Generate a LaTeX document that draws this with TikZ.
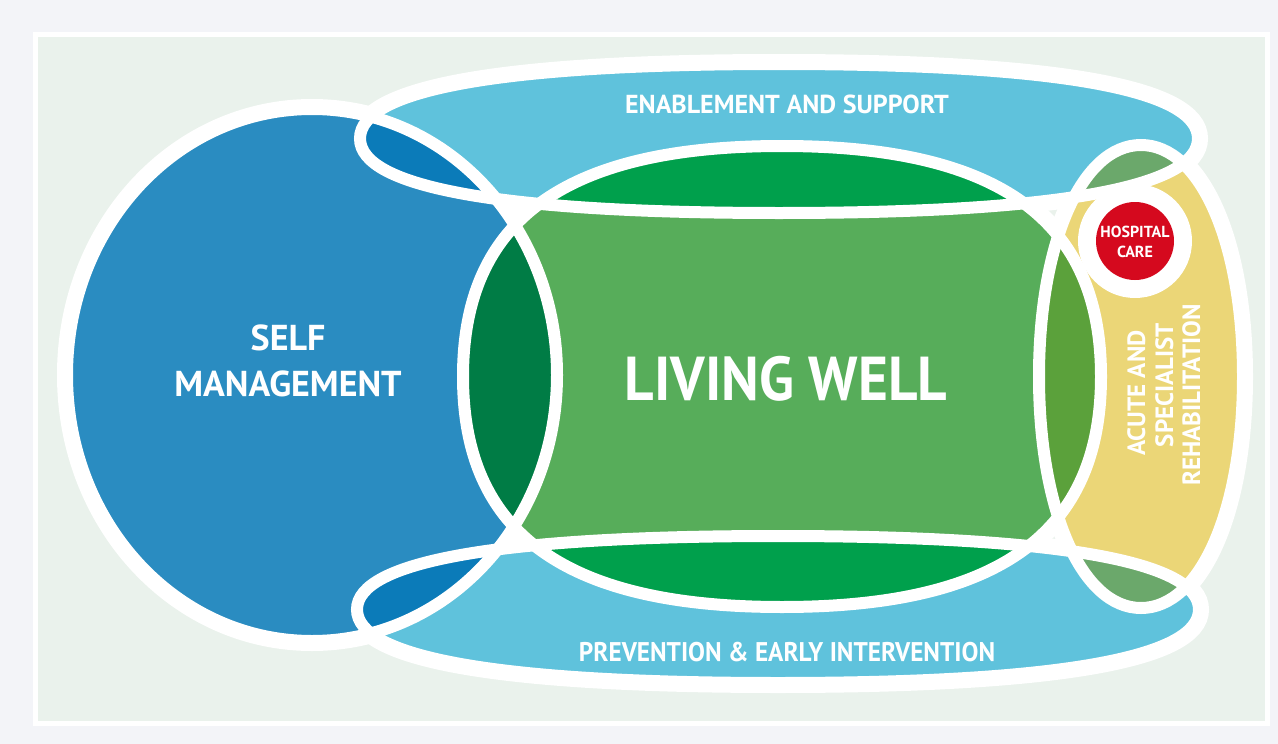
\documentclass[tikz,border=0pt]{standalone}
\usepackage{fontspec}
\setmainfont{PT Sans}
\definecolor{bgout}{HTML}{F3F4F8}
\definecolor{panel}{HTML}{EAF2EC}
\definecolor{cblue}{HTML}{2A8CC1}
\definecolor{dkblue}{HTML}{0B7BB9}
\definecolor{cband}{HTML}{5FC2DC}
\definecolor{cgreen}{HTML}{57AD5A}
\definecolor{lensG}{HTML}{00A04C}
\definecolor{lensL}{HTML}{007C45}
\definecolor{lensR}{HTML}{5BA13B}
\definecolor{cyel}{HTML}{EBD677}
\definecolor{lensY}{HTML}{6BA86B}
\definecolor{cred}{HTML}{D5091E}
\newcommand\sqpath[5]{({#1+#3},{#2}) .. controls ({#1+#3},{#2+#5*#4}) and ({#1+#5*#3},{#2+#4}) .. ({#1},{#2+#4}) .. controls ({#1-#5*#3},{#2+#4}) and ({#1-#3},{#2+#5*#4}) .. ({#1-#3},{#2}) .. controls ({#1-#3},{#2-#5*#4}) and ({#1-#5*#3},{#2-#4}) .. ({#1},{#2-#4}) .. controls ({#1+#5*#3},{#2-#4}) and ({#1+#3},{#2-#5*#4}) .. cycle}
\newcommand\pBlue{\sqpath{312}{375}{245}{266}{0.555}}
\newcommand\pTop{\sqpath{779}{138.5}{419}{74.5}{0.66}}
\newcommand\pBot{\sqpath{778}{609.5}{421}{73.5}{0.66}}
\newcommand\pMid{\sqpath{782}{376.5}{319}{230.5}{0.68}}
\newcommand\pYel{\sqpath{1141}{376.5}{102}{231.5}{0.58}}
\begin{document}
\begin{tikzpicture}[x=1pt,y=-1pt,
  halo/.style={draw=white,line width=20pt},
  edge/.style={draw=white,line width=12pt},
  lbl/.style={text=white,inner sep=0pt,font=\bfseries}]
\useasboundingbox (0,0) rectangle (1278,744);
\fill[bgout] (0,0) rectangle (1278,744);
\fill[white] (33,32) rectangle (1270,726);
\fill[panel] (38,37) rectangle (1265,721);
% halo
\path[halo] \pBlue;
\path[halo] \pTop;
\path[halo] \pBot;
\path[halo] \pMid;
\path[halo] \pYel;
% base fills
\fill[cblue] \pBlue;
\fill[cband] \pTop;
\fill[cband] \pBot;
\fill[cgreen] \pMid;
\fill[cyel] \pYel;
% overlaps
\begin{scope}
  \clip \pBlue;
  \fill[dkblue] \pTop;
  \fill[dkblue] \pBot;
  \fill[lensL] \pMid;
\end{scope}
\begin{scope}
  \clip \pMid;
  \fill[lensG] \pTop;
  \fill[lensG] \pBot;
  \fill[lensR] \pYel;
\end{scope}
\begin{scope}
  \clip \pYel;
  \fill[lensY] \pTop;
  \fill[lensY] \pBot;
\end{scope}
% white edges
\path[edge] \pBlue;
\path[edge] \pTop;
\path[edge] \pBot;
\path[edge] \pMid;
\path[edge] \pYel;
% hospital
\fill[white] (1135,241) circle[radius=57];
\fill[cred] (1135,241) circle[radius=39];
% labels
\node[lbl,anchor=base,font=\bfseries\fontsize{36}{40}\selectfont] (sm1) at (288,350) {SELF};
\node[lbl,anchor=base,font=\bfseries\fontsize{36}{40}\selectfont] (sm2) at (288,396) {MANAGEMENT};
\node[lbl,anchor=base,font=\bfseries\fontsize{62}{70}\selectfont] (lw) at (786,400) {\scalebox{0.925}[1]{LIVING WELL}};
\node[lbl,anchor=base,font=\bfseries\fontsize{26}{30}\selectfont] (es) at (787,113) {ENABLEMENT AND SUPPORT};
\node[lbl,anchor=base,font=\bfseries\fontsize{27}{30}\selectfont] (pe) at (787,661) {\scalebox{0.935}[1]{PREVENTION \& EARLY INTERVENTION}};
\node[lbl,anchor=base,font=\bfseries\fontsize{16}{18}\selectfont] (hc1) at (1135,237) {HOSPITAL};
\node[lbl,anchor=base,font=\bfseries\fontsize{16}{18}\selectfont] (hc2) at (1135,257) {CARE};
\node[lbl,anchor=base,rotate=90,font=\bfseries\fontsize{25}{28}\selectfont] (ar1) at (1145,393) {ACUTE AND};
\node[lbl,anchor=base,rotate=90,font=\bfseries\fontsize{25}{28}\selectfont] (ar2) at (1173,385) {SPECIALIST};
\node[lbl,anchor=base,rotate=90,font=\bfseries\fontsize{25}{28}\selectfont] (ar3) at (1200,395) {REHABILITATION};
\end{tikzpicture}
\end{document}
